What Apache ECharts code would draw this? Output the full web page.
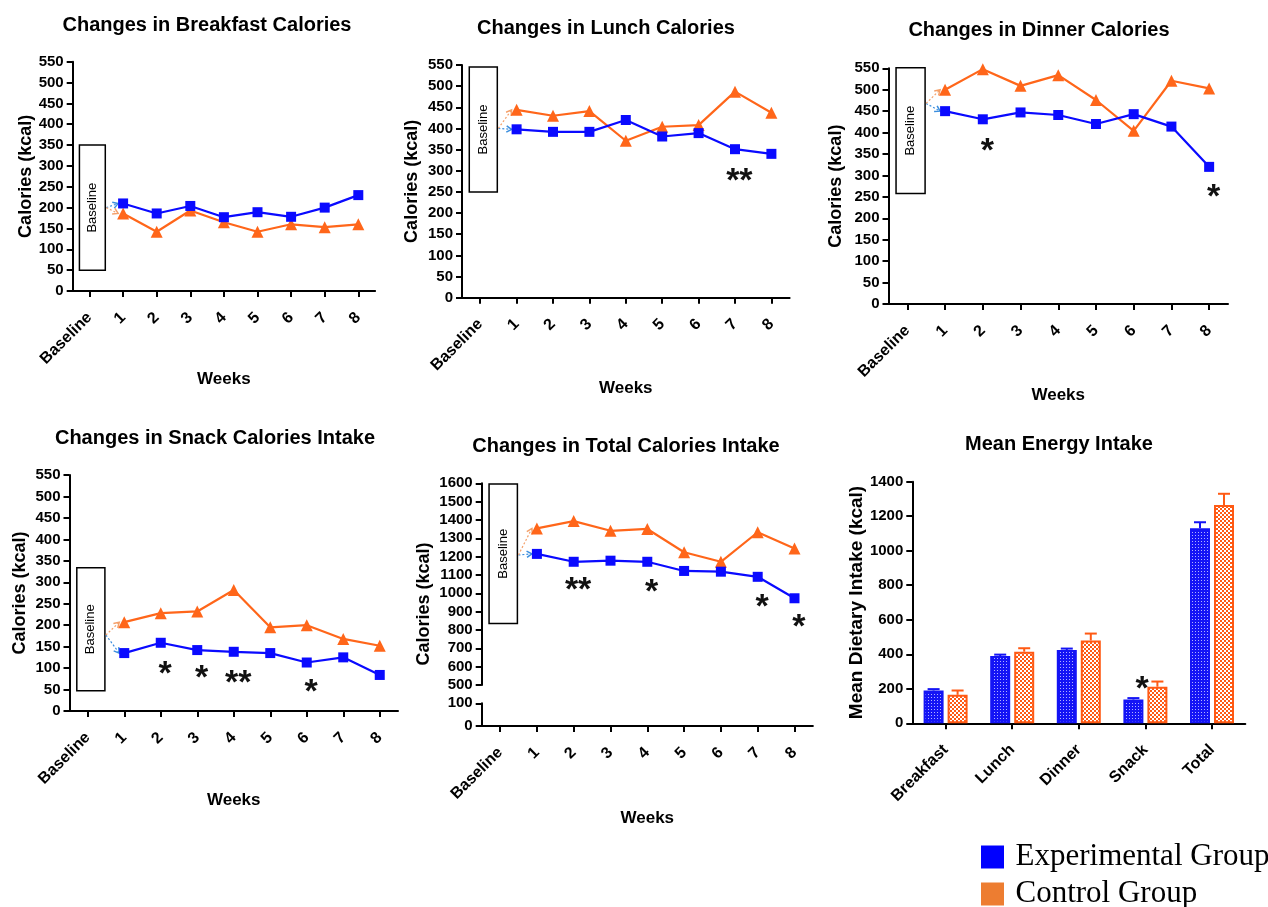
<!DOCTYPE html>
<html><head><meta charset="utf-8">
<script src="https://cdn.jsdelivr.net/npm/echarts@6/dist/echarts.min.js"></script>
<style>html,body{margin:0;padding:0;background:#fff}#c{width:1268px;height:907px}</style>
</head><body><div id="c"></div>
<script>
// ---------------- DATA ----------------
const weeks = ['Baseline','1','2','3','4','5','6','7','8'];
const calTicks = [0, 550, 50];          // min, max, interval (kcal)
const totalUpperTicks = [500, 1600, 100];
const totalLowerTicks = [0, 100, 100];
const mealTicks = [0, 1400, 200];

const breakfastExp  = [null, 210, 186, 204, 177, 189, 178, 200, 230];
const breakfastCtrl = [null, 186, 142, 193, 165, 142, 160, 153, 160];
const lunchExp      = [null, 398, 392, 392, 420, 381, 389, 351, 340];
const lunchCtrl     = [null, 444, 430, 441, 371, 404, 408, 487, 437];
const dinnerExp     = [null, 450, 431, 447, 441, 420, 443, 414, 320];
const dinnerCtrl    = [null, 500, 548, 509, 534, 476, 404, 521, 503];
const snackExp      = [null, 135, 159, 142, 138, 135, 113, 125, 84];
const snackCtrl     = [null, 207, 228, 232, 282, 195, 200, 168, 152];
const totalExp      = [null, 1215, 1172, 1178, 1172, 1122, 1118, 1090, 973];
const totalCtrl     = [null, 1354, 1394, 1341, 1351, 1224, 1172, 1333, 1245];

// baseline annotation box: [low, high, arrow start] in kcal
const breakfastBox = [50, 350, 200];
const lunchBox     = [250, 545, 400];
const dinnerBox    = [258, 551, 468];
const snackBox     = [47, 334, 177];
const totalBox     = [836, 1596, 1209];

// significance marks: [week index, kcal, mark]
const breakfastStars = [];
const lunchStars  = [[7, 293, '**']];
const dinnerStars = [[2, 373, '*'], [8, 266, '*']];
const snackStars  = [[2, 103, '*'], [3, 92, '*'], [4, 82, '**'], [6, 61, '*']];
const totalStars  = [[2, 1055, '**'], [4, 1045, '*'], [7, 963, '*'], [8, 854, '*']];

const meals    = ['Breakfast', 'Lunch', 'Dinner', 'Snack', 'Total'];
const meanExp  = [190, 390, 425, 138, 1130];
const seExp    = [8, 8, 8, 8, 35];
const meanCtrl = [165, 415, 480, 212, 1265];
const seCtrl   = [25, 20, 40, 30, 65];
const mealStars = [[3, 241, '*']];

const groupNames = ['Experimental Group', 'Control Group'];
const titles = ['Changes in Breakfast Calories', 'Changes in Lunch Calories', 'Changes in Dinner Calories',
                'Changes in Snack Calories Intake', 'Changes in Total Calories Intake', 'Mean Energy Intake'];

// ---------------- STYLE / LAYOUT ----------------
const FONT = '"Liberation Sans", Arial, sans-serif';
const BLUE = '#0a0aff', ORANGE = '#ff661a';
const BAR_BLUE = '#1414f5', BAR_ORANGE = '#ff5a14';
const STAR_SIZE = 34;

function makePattern(size, draw) {
  const c = document.createElement('canvas'); c.width = c.height = size;
  draw(c.getContext('2d')); return c;
}
const bluePat = makePattern(3, ctx => { ctx.fillStyle = BAR_BLUE; ctx.fillRect(0,0,3,3); ctx.fillStyle = '#b0b0ff'; ctx.fillRect(1,1,1,1); });
const orangePat = makePattern(4, ctx => { ctx.fillStyle = '#ffffff'; ctx.fillRect(0,0,4,4); ctx.fillStyle = BAR_ORANGE; ctx.fillRect(0,0,2,2); ctx.fillRect(2,2,2,2); });

const axisLine = {show: true, onZero: false, lineStyle: {color: '#000', width: 2}};
const axisTick = {show: true, length: 6, lineStyle: {color: '#000', width: 2}};
const tickFont = {color: '#000', fontWeight: 'bold', fontFamily: FONT};
const plain = v => String(v);

const linePanels = [
  {title: titles[0], exp: breakfastExp, ctrl: breakfastCtrl, box: breakfastBox, stars: breakfastStars,
   grid: {left: 72.7, top: 61.7, width: 302.4, height: 229.3}, tx: 207, ty: 26, yGap: 38, xGap: 80},
  {title: titles[1], exp: lunchExp, ctrl: lunchCtrl, box: lunchBox, stars: lunchStars,
   grid: {left: 462, top: 65, width: 327.6, height: 232.7}, tx: 606, ty: 29.3, yGap: 41, xGap: 82},
  {title: titles[2], exp: dinnerExp, ctrl: dinnerCtrl, box: dinnerBox, stars: dinnerStars,
   grid: {left: 888.5, top: 68.3, width: 339.5, height: 235.7}, tx: 1039, ty: 31.7, yGap: 43.5, xGap: 82.5},
  {title: titles[3], exp: snackExp, ctrl: snackCtrl, box: snackBox, stars: snackStars,
   grid: {left: 69.5, top: 475, width: 328.5, height: 236}, tx: 215, ty: 439.3, yGap: 40.5, xGap: 80.5},
];

const grids = [], xAxes = [], yAxes = [], series = [], titleList = [];

function xAxisDef(g, cats, show, name, nameGap) {
  return {type: 'category', gridIndex: g, data: cats, show: show, boundaryGap: true,
    axisLine: axisLine, axisTick: Object.assign({alignWithLabel: true, interval: 0}, axisTick),
    axisLabel: Object.assign({interval: 0, rotate: 45, fontSize: 16, margin: 24}, tickFont),
    name: name, nameLocation: 'middle', nameGap: nameGap,
    nameTextStyle: {fontWeight: 'bold', fontSize: 17, fontFamily: FONT, color: '#000'},
    splitLine: {show: false}};
}
function yAxisDef(g, ticks, name, nameGap, nameSize) {
  return {type: 'value', gridIndex: g, min: ticks[0], max: ticks[1], interval: ticks[2],
    axisLine: axisLine, axisTick: axisTick,
    axisLabel: Object.assign({fontSize: 15, margin: 9, formatter: plain}, tickFont),
    name: name, nameLocation: 'middle', nameGap: nameGap,
    nameTextStyle: {fontWeight: 'bold', fontSize: nameSize || 18, fontFamily: FONT, color: '#000'},
    splitLine: {show: false}};
}
function lineSeries(g, exp, ctrl) {
  return [
    {type: 'line', name: groupNames[1], xAxisIndex: g, yAxisIndex: g, data: ctrl, symbol: 'triangle', symbolSize: 12,
     itemStyle: {color: ORANGE}, lineStyle: {color: ORANGE, width: 2.2}, z: 3, animation: false},
    {type: 'line', name: groupNames[0], xAxisIndex: g, yAxisIndex: g, data: exp, symbol: 'rect', symbolSize: 10,
     itemStyle: {color: BLUE}, lineStyle: {color: BLUE, width: 2.2}, z: 4, animation: false},
  ];
}
function arrow(x0, y0, x1, y1, color) {
  const ang = Math.atan2(y1 - y0, x1 - x0), L = 6;
  return [
    {type: 'line', shape: {x1: x0, y1: y0, x2: x1, y2: y1}, style: {stroke: color, lineWidth: 1.2, lineDash: [2, 2]}},
    {type: 'polyline', shape: {points: [[x1 - L*Math.cos(ang - 0.55), y1 - L*Math.sin(ang - 0.55)], [x1, y1],
      [x1 - L*Math.cos(ang + 0.55), y1 - L*Math.sin(ang + 0.55)]]}, style: {stroke: color, lineWidth: 1.5, fill: null}}
  ];
}
function boxSeries(g, box, exp, ctrl) {
  return {type: 'custom', xAxisIndex: g, yAxisIndex: g, silent: true, clip: false, z: 2, animation: false,
    data: [[0, box[0]]],
    renderItem(params, api) {
      const top = api.coord([0, box[1]]), bot = api.coord([0, box[0]]);
      const band = api.size([1, 0])[0];
      const x0 = top[0] - 0.3 * band, x1 = top[0] + 0.47 * band;
      const a = api.coord([0, box[2]]);
      const pe = api.coord([1, exp[1]]), pc = api.coord([1, ctrl[1]]);
      const children = [
        {type: 'rect', shape: {x: x0, y: top[1], width: x1 - x0, height: bot[1] - top[1]},
         style: {fill: '#fff', stroke: '#000', lineWidth: 1.5}},
        {type: 'text', x: (x0 + x1) / 2, y: (top[1] + bot[1]) / 2, rotation: Math.PI / 2,
         style: {text: 'Baseline', font: '13px ' + FONT, fill: '#000', align: 'center', verticalAlign: 'middle',
                 textAlign: 'center', textVerticalAlign: 'middle'}},
      ].concat(arrow(x1 + 1, a[1], pe[0] - 5, pe[1], '#3b8ede'), arrow(x1 + 1, a[1], pc[0] - 5, pc[1], '#f4a06a'));
      return {type: 'group', children: children};
    }};
}
function starSeries(g, stars, nudge) {
  return {type: 'custom', xAxisIndex: g, yAxisIndex: g, silent: true, clip: false, z: 6, animation: false,
    data: stars.map(s => [s[0], s[1]]),
    renderItem(params, api) {
      const s = stars[params.dataIndex];
      const p = api.coord([s[0], s[1]]);
      const band = api.size([1, 0])[0];
      return {type: 'text', x: p[0] + nudge * band, y: p[1] + 0.22 * STAR_SIZE,
        style: {text: s[2], font: 'bold ' + STAR_SIZE + 'px ' + FONT, fill: '#111', align: 'center', verticalAlign: 'middle',
                textAlign: 'center', textVerticalAlign: 'middle'}};
    }};
}
function titleDef(text, x, y) {
  return {text: text, left: x, top: y - 11, textAlign: 'center', padding: 0,
    textStyle: {fontSize: 20, fontWeight: 'bold', fontFamily: FONT, color: '#000'}};
}

// panels 1-4
linePanels.forEach((p, g) => {
  grids.push(Object.assign({outerBoundsMode: 'none', containLabel: false}, p.grid));
  xAxes.push(xAxisDef(g, weeks, true, 'Weeks', p.xGap));
  yAxes.push(yAxisDef(g, calTicks, 'Calories (kcal)', p.yGap));
  series.push(...lineSeries(g, p.exp, p.ctrl));
  series.push(boxSeries(g, p.box, p.exp, p.ctrl));
  if (p.stars.length) series.push(starSeries(g, p.stars, 0.12));
  titleList.push(titleDef(p.title, p.tx, p.ty));
});

// panel 5: total with broken axis (two grids)
grids.push({outerBoundsMode: 'none', containLabel: false, left: 481.7, top: 483.3, width: 331.2, height: 201.7});
grids.push({outerBoundsMode: 'none', containLabel: false, left: 481.7, top: 703.3, width: 331.2, height: 22.7});
xAxes.push(xAxisDef(4, weeks, false, '', 0));
xAxes.push(xAxisDef(5, weeks, true, 'Weeks', 83.8));
yAxes.push(yAxisDef(4, totalUpperTicks, '', 0));
yAxes.push(yAxisDef(5, totalLowerTicks, '', 0));
series.push(...lineSeries(4, totalExp, totalCtrl));
series.push(boxSeries(4, totalBox, totalExp, totalCtrl));
series.push(starSeries(4, totalStars, 0.12));
titleList.push(titleDef(titles[4], 626, 447.3));

// panel 6: bars
grids.push({outerBoundsMode: 'none', containLabel: false, left: 912.3, top: 481.7, width: 333, height: 241.6});
xAxes.push(xAxisDef(6, meals, true, '', 0));
yAxes.push(yAxisDef(6, mealTicks, 'Mean Dietary Intake (kcal)', 41, 19));
series.push({type: 'bar', name: groupNames[0], xAxisIndex: 6, yAxisIndex: 6, data: meanExp, barWidth: 20, barGap: '20%',
  itemStyle: {color: {image: bluePat, repeat: 'repeat'}, borderColor: BAR_BLUE, borderWidth: 2}, animation: false});
series.push({type: 'bar', name: groupNames[1], xAxisIndex: 6, yAxisIndex: 6, data: meanCtrl, barWidth: 20, barGap: '20%',
  itemStyle: {color: {image: orangePat, repeat: 'repeat'}, borderColor: BAR_ORANGE, borderWidth: 2}, animation: false});
function errSeries(means, ses, dx, color) {
  return {type: 'custom', xAxisIndex: 6, yAxisIndex: 6, silent: true, clip: false, z: 3, animation: false,
    data: means.map((m, i) => [i, m, ses[i]]),
    renderItem(params, api) {
      const i = api.value(0), m = api.value(1), s = api.value(2);
      const p0 = api.coord([i, m]), p1 = api.coord([i, m + s]);
      const x = p0[0] + dx;
      return {type: 'group', children: [
        {type: 'line', shape: {x1: x, y1: p0[1], x2: x, y2: p1[1]}, style: {stroke: color, lineWidth: 2}},
        {type: 'line', shape: {x1: x - 6, y1: p1[1], x2: x + 6, y2: p1[1]}, style: {stroke: color, lineWidth: 2}}]};
    }};
}
series.push(errSeries(meanExp, seExp, -12, BAR_BLUE));
series.push(errSeries(meanCtrl, seCtrl, 12, BAR_ORANGE));
series.push(starSeries(6, mealStars, -0.05));
titleList.push(titleDef(titles[5], 1059, 445));

const option = {
  backgroundColor: '#fff',
  animation: false,
  title: titleList,
  grid: grids, xAxis: xAxes, yAxis: yAxes, series: series,
  legend: {orient: 'vertical', left: 981, top: 841.5, height: 90, padding: 0, itemWidth: 23, itemHeight: 23, itemGap: 6, icon: 'rect',
    selectedMode: false,
    textStyle: {fontFamily: '"Liberation Serif", "Times New Roman", serif', fontSize: 31, lineHeight: 30, color: '#000',
      padding: [0, 0, 0, 6.5]},
    data: [{name: groupNames[0], itemStyle: {color: '#0000ff', borderWidth: 0}},
           {name: groupNames[1], itemStyle: {color: '#ed7d31', borderWidth: 0}}]},
  graphic: [{type: 'text', x: 424, y: 604, rotation: Math.PI / 2,
    style: {text: 'Calories (kcal)', font: 'bold 18px ' + FONT, fill: '#000', textAlign: 'center', textVerticalAlign: 'middle',
            align: 'center', verticalAlign: 'middle'}}]
};
const chart = echarts.init(document.getElementById('c'), null, {renderer: 'canvas'});
chart.setOption(option);
</script></body></html>
